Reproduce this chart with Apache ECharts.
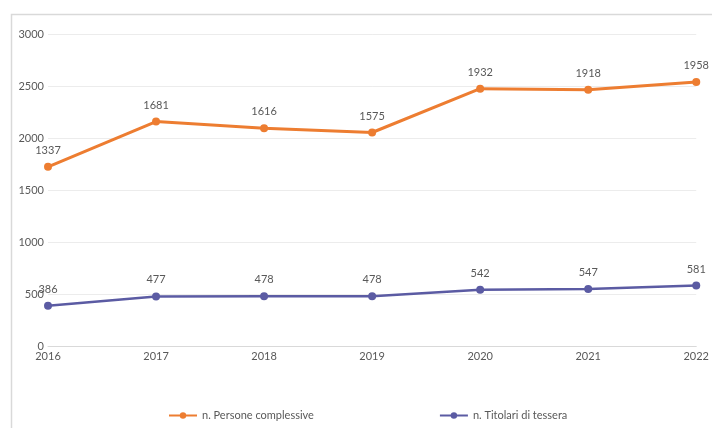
<!DOCTYPE html>
<html><head><meta charset="utf-8">
<script src="https://cdn.jsdelivr.net/npm/echarts@6/dist/echarts.min.js"></script>
<style>html,body{margin:0;padding:0;background:#fff}#c{width:712px;height:428px}</style>
</head><body><div id="c"></div>
<script>
var years = ['2016','2017','2018','2019','2020','2021','2022'];
var persone = [1337,1681,1616,1575,1932,1918,1958];
var titolari = [386,477,478,478,542,547,581];
var yTicks = [0,500,1000,1500,2000,2500,3000];
var nameP = 'n. Persone complessive';
var nameT = 'n. Titolari di tessera';
var FONT = 'Lato, "Open Sans", sans-serif';
var chart = echarts.init(document.getElementById('c'));
chart.setOption({
  backgroundColor:'#fff',
  animation:false,
  graphic:[{type:'rect',left:9,top:12,shape:{width:760,height:460},style:{fill:'none',stroke:'#d9d9d9',lineWidth:1.5},silent:true,z:-1}],
  grid:{left:48,right:15,top:34,bottom:82,containLabel:false},
  legend:{left:163,top:405,itemGap:125,itemWidth:28,itemHeight:8,
    data:[nameP,nameT],
    textStyle:{color:'#595959',fontSize:11,fontFamily:FONT}},
  xAxis:{type:'category',data:years,boundaryGap:false,
    axisLine:{lineStyle:{color:'#d9d9d9'}},axisTick:{show:false},
    axisLabel:{color:'#595959',fontSize:11,fontFamily:FONT,margin:5}},
  yAxis:{type:'value',min:yTicks[0],max:yTicks[yTicks.length-1],interval:500,
    axisLine:{show:false},axisTick:{show:false},
    splitLine:{lineStyle:{color:'#ececec'}},
    axisLabel:{color:'#595959',fontSize:11,fontFamily:FONT,margin:4,formatter:function(v){return String(v);}}},
  series:[
    {name:nameT,type:'line',stack:'tot',data:titolari,color:'#5b5ba3',
      symbol:'circle',symbolSize:8,lineStyle:{width:2.5},
      label:{show:true,position:'top',distance:7,color:'#595959',fontSize:11,fontFamily:FONT}},
    {name:nameP,type:'line',stack:'tot',data:persone,color:'#ed7d31',
      symbol:'circle',symbolSize:8,lineStyle:{width:3},
      label:{show:true,position:'top',distance:7,color:'#595959',fontSize:11,fontFamily:FONT}}
  ]
});
</script></body></html>
